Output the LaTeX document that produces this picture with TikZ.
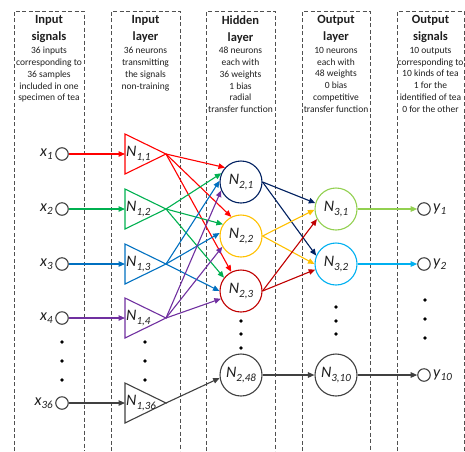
\documentclass[tikz,border=0pt]{standalone}
\usepackage{fontspec}
\setmainfont{Carlito}
\usetikzlibrary{arrows.meta}
\definecolor{cRed}{RGB}{255,0,0}
\definecolor{cGreen}{RGB}{0,176,80}
\definecolor{cBlue}{RGB}{0,112,192}
\definecolor{cPurple}{RGB}{112,48,160}
\definecolor{cGray}{RGB}{64,64,64}
\definecolor{cNavy}{RGB}{0,32,96}
\definecolor{cGold}{RGB}{255,192,0}
\definecolor{cDRed}{RGB}{192,0,0}
\definecolor{cLGreen}{RGB}{146,208,80}
\definecolor{cLBlue}{RGB}{0,176,240}
\definecolor{boxgray}{RGB}{80,80,80}
\definecolor{txt}{RGB}{30,30,30}
\newcommand\subl[2]{\textit{#1}\raisebox{-0.2em}{\fontsize{11}{11}\selectfont\textit{#2}}}
\begin{document}
\begin{tikzpicture}[x=1pt,y=-1pt,
  box/.style={draw=boxgray, dash pattern=on 4pt off 2.5pt, line width=0.8pt},
  title/.style={font=\fontsize{12.5}{17}\selectfont\bfseries, align=center, anchor=north, inner sep=0pt, text=txt},
  desc/.style={font=\fontsize{9.5}{11.8}\selectfont, align=center, anchor=north, inner sep=0pt, text=txt},
  io/.style={circle, draw=cGray, line width=1.1pt, minimum size=12.5pt, inner sep=0pt},
  neuron/.style={circle, line width=1.1pt, minimum size=42pt, inner sep=0pt, font=\fontsize{16}{16}\selectfont, text=txt},
  lab/.style={font=\fontsize{16}{16}\selectfont, inner sep=0pt, text=txt},
  tri/.style={line width=1.1pt, line join=miter},
  arr/.style={-{Triangle[length=6.5pt,width=5.5pt]}, line width=1.1pt},
  dot/.style={circle, fill=black, minimum size=3.8pt, inner sep=0pt}]
\useasboundingbox (0,0) rectangle (465,451);
% dashed column boxes
\foreach \l/\r in {14/84,111/180,206/275,302/370,397/464}
  \draw[box] (\l,451) -- (\l,11) -- (\r,11) -- (\r,451);
% headers
\node[title] (T1) at (49,15.5) {Input\\signals};
\node[desc] (D1) at (49,47) {36 inputs\\corresponding to\\36 samples\\included in one\\specimen of tea};
\node[title] (T2) at (145.5,15.5) {Input\\layer};
\node[desc] (D2) at (145.5,47) {36 neurons\\transmitting\\the signals\\non-training};
\node[title] (T3) at (240.5,15.5) {Hidden\\layer};
\node[desc] (D3) at (240.5,47) {48 neurons\\each with\\36 weights\\1 bias\\radial\\transfer function};
\node[title] (T4) at (336,15.5) {Output\\layer};
\node[desc] (D4) at (336,47) {10 neurons\\each with\\48 weights\\0 bias\\competitive\\transfer function};
\node[title] (T5) at (430.5,15.5) {Output\\signals};
\node[desc] (D5) at (430.5,47) {10 outputs\\corresponding to\\10 kinds of tea\\1 for the\\identified of tea\\0 for the other};
% input signals
\node[io] (x1) at (62,154) {};
\node[io] (x2) at (62,209) {};
\node[io] (x3) at (62,264) {};
\node[io] (x4) at (62,318) {};
\node[io] (x36) at (62,403) {};
\node[lab, anchor=east] (lx1) at (53,154) {\subl{x}{1}};
\node[lab, anchor=east] (lx2) at (53,209) {\subl{x}{2}};
\node[lab, anchor=east] (lx3) at (53,264) {\subl{x}{3}};
\node[lab, anchor=east] (lx4) at (53,318) {\subl{x}{4}};
\node[lab, anchor=east] (lx36) at (53,403) {\subl{x}{36}};
% input layer triangles
\draw[tri, cRed] (125,134) -- (166,154) -- (125,174) -- cycle;
\draw[tri, cGreen] (125,189) -- (166,209) -- (125,229) -- cycle;
\draw[tri, cBlue] (125,244) -- (166,264) -- (125,284) -- cycle;
\draw[tri, cPurple] (125,298) -- (166,318) -- (125,338) -- cycle;
\draw[tri, cGray] (125,383) -- (166,403) -- (125,423) -- cycle;
\coordinate (a1) at (166,154); \coordinate (b1) at (125,154);
\coordinate (a2) at (166,209); \coordinate (b2) at (125,209);
\coordinate (a3) at (166,264); \coordinate (b3) at (125,264);
\coordinate (a4) at (166,318); \coordinate (b4) at (125,318);
\coordinate (a36) at (166,403); \coordinate (b36) at (125,403);
\node[lab, anchor=west] (t1) at (126,154) {\subl{N}{1,1}};
\node[lab, anchor=west] (t2) at (126,209) {\subl{N}{1,2}};
\node[lab, anchor=west] (t3) at (126,264) {\subl{N}{1,3}};
\node[lab, anchor=west] (t4) at (126,318) {\subl{N}{1,4}};
\node[lab, anchor=west] (t36) at (126,403) {\subl{N}{1,36}};
% hidden layer
\node[neuron, draw=cNavy] (h1) at (241,182) {\subl{N}{2,1}};
\node[neuron, draw=cGold] (h2) at (241,236) {\subl{N}{2,2}};
\node[neuron, draw=cDRed] (h3) at (241,291) {\subl{N}{2,3}};
\node[neuron, draw=cGray] (h48) at (241,375) {\subl{N}{2,48}};
% output layer
\node[neuron, draw=cLGreen] (o1) at (336,209) {\subl{N}{3,1}};
\node[neuron, draw=cLBlue] (o2) at (336,264) {\subl{N}{3,2}};
\node[neuron, draw=cGray] (o10) at (336,375) {\subl{N}{3,10}};
% output signals
\node[io] (y1) at (424,209) {};
\node[io] (y2) at (424,264) {};
\node[io] (y10) at (424,375) {};
\node[lab, anchor=west] (ly1) at (433,209) {\subl{y}{1}};
\node[lab, anchor=west] (ly2) at (433,264) {\subl{y}{2}};
\node[lab, anchor=west] (ly10) at (433,375) {\subl{y}{10}};
% dots
\foreach \yy in {342,361,380} {\node[dot] at (62,\yy) {}; \node[dot] at (145,\yy) {};}
\foreach \yy in {321,334,348} \node[dot] at (241,\yy) {};
\foreach \yy in {307,321,334} \node[dot] at (336,\yy) {};
\foreach \yy in {300,319,338} \node[dot] at (425,\yy) {};
% input signal arrows
\draw[arr, cRed] (x1) -- (b1);
\draw[arr, cGreen] (x2) -- (b2);
\draw[arr, cBlue] (x3) -- (b3);
\draw[arr, cPurple] (x4) -- (b4);
\draw[arr, cGray] (x36) -- (b36);
% input layer -> hidden layer
\draw[arr, cRed] (a1) -- (h1.138);
\draw[arr, cRed] (a1) -- (h2.117);
\draw[arr, cRed] (a1) -- (h3.117);
\draw[arr, cGreen] (a2) -- (h1.156);
\draw[arr, cGreen] (a2) -- (h2.147);
\draw[arr, cGreen] (a2) -- (h3.142);
\draw[arr, cBlue] (a3) -- (h1.177);
\draw[arr, cBlue] (a3) -- (h2.172);
\draw[arr, cBlue] (a3) -- (h3.180);
\draw[arr, cPurple] (a4) -- (h1.203);
\draw[arr, cPurple] (a4) -- (h2.210);
\draw[arr, cPurple] (a4) -- (h3.201);
\draw[arr, cGray] (a36) -- (h48.188);
% hidden -> output
\draw[arr, cNavy] (h1.east) -- (o1.164);
\draw[arr, cNavy] (h1.east) -- (o2.157);
\draw[arr, cGold] (h2.east) -- (o1.182);
\draw[arr, cGold] (h2.east) -- (o2.180);
\draw[arr, cDRed] (h3.east) -- (o1.208);
\draw[arr, cDRed] (h3.east) -- (o2.195);
\draw[arr, cGray] (h48) -- (o10);
% output -> signals
\draw[arr, cLGreen] (o1) -- (y1);
\draw[arr, cLBlue] (o2) -- (y2);
\draw[arr, cGray] (o10) -- (y10);
\end{tikzpicture}
\end{document}
